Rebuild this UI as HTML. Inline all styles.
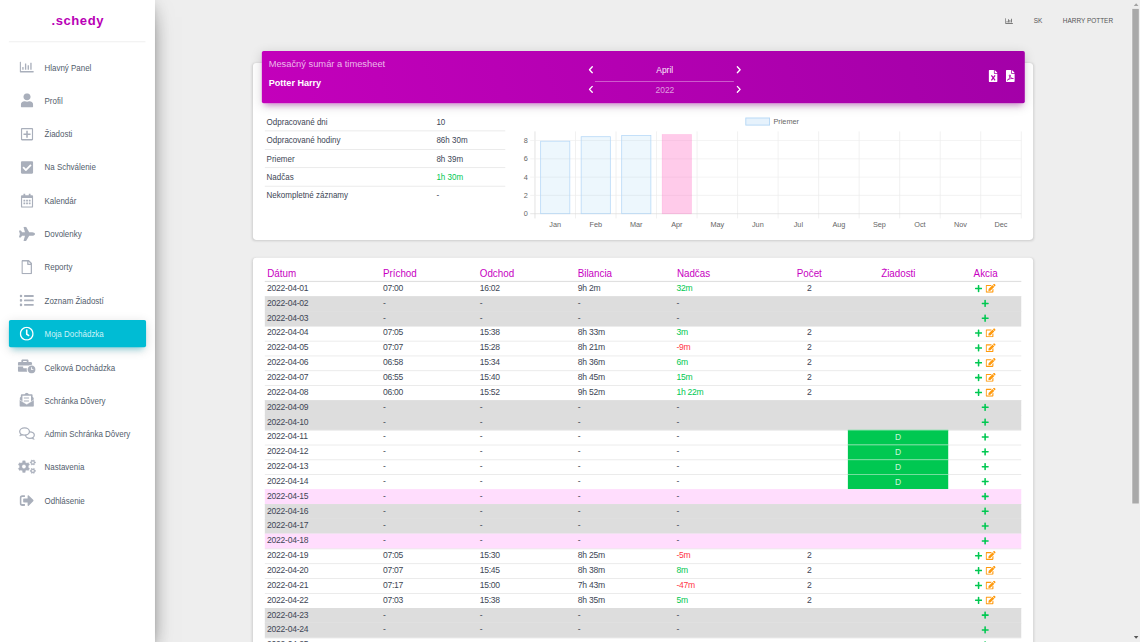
<!DOCTYPE html>
<html lang="sk"><head><meta charset="utf-8"><title>schedy</title>
<style>
html,body{margin:0;padding:0;background:#eee;overflow:hidden;}
body{width:1140px;height:642px;position:relative;font-family:"Liberation Sans",sans-serif;}
#w{position:absolute;left:0;top:0;width:1920px;height:1082px;transform:scale(0.59375);transform-origin:0 0;background:#eee;overflow:hidden;color:#3c4858;font-size:14px;}
#w *{box-sizing:border-box;}
.abs{position:absolute;}
.side{position:absolute;left:0;top:0;width:261px;height:1082px;background:#fff;box-shadow:0 16px 38px -12px rgba(0,0,0,.56),0 4px 25px 0 rgba(0,0,0,.12),0 8px 10px -5px rgba(0,0,0,.2);z-index:5;}
.logo{position:absolute;left:1px;top:19.900px;width:260px;text-align:center;font-weight:bold;font-size:22px;letter-spacing:.95px;color:#b900b6;line-height:30px;}
.hr{position:absolute;left:15px;top:69.5px;width:230px;height:1px;background:rgba(180,180,180,.35);}
.ni{position:absolute;left:15px;width:231px;height:46px;border-radius:3px;}
.ni.act{background:#00bcd4;box-shadow:0 4px 20px 0 rgba(0,0,0,.14),0 7px 10px -5px rgba(0,188,212,.4);}
.ni .ic{position:absolute;left:15px;top:0;width:30px;height:46px;display:flex;align-items:center;justify-content:center;}
.ni .tx{position:absolute;left:60px;top:.6px;line-height:46px;font-size:14.200px;color:#525d6c;white-space:nowrap;transform:scaleX(.944);transform-origin:0 50%;}
.ni.act .tx{color:#cdf3f8;}
.top{position:absolute;top:25.500px;line-height:18px;font-size:13px;color:#555;white-space:nowrap;transform:scaleX(.835);transform-origin:0 0;}
.card{position:absolute;background:#fff;border-radius:6px;box-shadow:0 1px 4px 0 rgba(0,0,0,.14);}
.chead{position:absolute;left:440.5px;top:85.800px;width:1285px;height:88.400px;border-radius:3px;background:linear-gradient(75deg,#c300bb,#a300a8);box-shadow:0 4px 20px 0 rgba(0,0,0,.14),0 7px 10px -5px rgba(176,0,176,.4);z-index:2;}
.t{position:absolute;white-space:nowrap;line-height:20px;}
.st{position:absolute;left:445.600px;width:405px;height:31px;border-top:1px solid #ddd;}
.st span{position:absolute;top:0;line-height:30px;font-size:14px;color:#3d4655;white-space:nowrap;transform:scaleX(.963);transform-origin:0 50%;}
.tb{position:absolute;left:445.600px;top:474px;width:1274.600px;}
.r{position:relative;height:25px;border-top:1px solid #dedede;}
.r.g{background:#dddddd;border-top-color:#dddddd;}
.r.p{background:#ffddfd;border-top-color:#ffddfd;}
.r span{position:absolute;top:-1.700px;line-height:25px;font-size:14.400px;letter-spacing:-.42px;color:#3d4655;white-space:nowrap;}
.c1{left:4.2px}.c2{left:199.4px}.c3{left:362.4px}.c4{left:527.6px}.c5{left:693.7px}
.c6{left:852.3px;width:130px;text-align:center}
.c7{left:982.1px;width:169.6px;text-align:center}
.c8{left:1151.7px;width:119px;text-align:center}
.r span.gr{color:#00c851}.r span.rd{color:#ff3547}
.r span.d{background:#00c851;color:#c9f6da;height:25px;top:-1px;line-height:23px;letter-spacing:0;border-top:1px solid #8fe6b0;}
.r svg{position:absolute;}
.th{position:absolute;top:450.300px;line-height:24px;font-size:17px;color:#c700c2;white-space:nowrap;transform:scaleX(.972);transform-origin:0 50%;}
.th.c{transform-origin:50% 50%;}
#clip{position:absolute;left:0;top:0;width:1140px;height:642px;overflow:hidden;}
</style></head><body><div id="clip"><div id="w">

<div class="side">
<div class="logo">.schedy</div><div class="hr"></div>
<div class="ni" style="top:90.3px"><div class="ic"><svg viewBox="0 0 512 512" width="24.00" height="24.00" fill="#a9afbb" color="#a9afbb" style=""><path d="M396.8 352h22.4c6.4 0 12.8-6.4 12.8-12.8V108.800c0-6.400-6.400-12.800-12.800-12.800h-22.400c-6.400 0-12.800 6.400-12.800 12.800v230.400c0 6.400 6.400 12.800 12.800 12.800zm-192 0h22.400c6.400 0 12.800-6.400 12.800-12.800V140.800c0-6.400-6.400-12.800-12.800-12.800h-22.400c-6.400 0-12.800 6.400-12.800 12.800v198.400c0 6.400 6.400 12.800 12.800 12.800zm96 0h22.400c6.400 0 12.800-6.400 12.800-12.800V204.800c0-6.400-6.400-12.800-12.800-12.800h-22.400c-6.400 0-12.800 6.400-12.800 12.800v134.400c0 6.400 6.400 12.800 12.800 12.800zM496 400H48V80c0-8.840-7.160-16-16-16H16C7.160 64 0 71.160 0 80v336c0 17.670 14.330 32 32 32h464c8.840 0 16-7.160 16-16v-16c0-8.840-7.160-16-16-16zm-387.200-48h22.400c6.400 0 12.800-6.400 12.800-12.800v-70.400c0-6.400-6.400-12.800-12.800-12.800h-22.400c-6.400 0-12.800 6.400-12.800 12.800v70.400c0 6.400 6.400 12.800 12.800 12.800z"/></svg></div><div class="tx">Hlavný Panel</div></div>
<div class="ni" style="top:146.4px"><div class="ic"><svg viewBox="0 0 448 512" width="21.00" height="24.00" fill="#a9afbb" color="#a9afbb" style=""><path d="M224 256c70.700 0 128-57.300 128-128S294.700 0 224 0 96 57.300 96 128s57.300 128 128 128zm89.600 32h-16.700c-22.200 10.200-46.900 16-72.900 16s-50.600-5.800-72.900-16h-16.700C60.200 288 0 348.200 0 422.400V464c0 26.500 21.500 48 48 48h352c26.500 0 48-21.500 48-48v-41.600c0-74.200-60.200-134.400-134.400-134.400z"/></svg></div><div class="tx">Profil</div></div>
<div class="ni" style="top:202.5px"><div class="ic"><svg viewBox="0 0 448 512" width="21.00" height="24.00" fill="#a9afbb" color="#a9afbb" style=""><path d="M352 240v32c0 6.600-5.400 12-12 12h-88v88c0 6.600-5.400 12-12 12h-32c-6.600 0-12-5.400-12-12v-88h-88c-6.600 0-12-5.400-12-12v-32c0-6.600 5.400-12 12-12h88v-88c0-6.600 5.400-12 12-12h32c6.600 0 12 5.400 12 12v88h88c6.600 0 12 5.400 12 12zm96-160v352c0 26.500-21.500 48-48 48H48c-26.500 0-48-21.500-48-48V80c0-26.500 21.500-48 48-48h352c26.500 0 48 21.500 48 48zm-48 346V86c0-3.300-2.700-6-6-6H54c-3.300 0-6 2.700-6 6v340c0 3.300 2.700 6 6 6h340c3.300 0 6-2.700 6-6z"/></svg></div><div class="tx">Žiadosti</div></div>
<div class="ni" style="top:258.6px"><div class="ic"><svg viewBox="0 0 448 512" width="21.00" height="24.00" fill="#a9afbb" color="#a9afbb" style=""><path d="M400 480H48c-26.510 0-48-21.490-48-48V80c0-26.510 21.490-48 48-48h352c26.510 0 48 21.490 48 48v352c0 26.510-21.490 48-48 48zm-204.686-98.059l184-184c6.248-6.248 6.248-16.379 0-22.627l-22.627-22.627c-6.248-6.248-16.379-6.249-22.628 0L184 302.745l-70.059-70.059c-6.248-6.248-16.379-6.248-22.628 0l-22.627 22.627c-6.248 6.248-6.248 16.379 0 22.627l104 104c6.249 6.250 16.379 6.250 22.628.001z"/></svg></div><div class="tx">Na Schválenie</div></div>
<div class="ni" style="top:314.7px"><div class="ic"><svg viewBox="0 0 448 512" width="21.00" height="24.00" fill="#a9afbb" color="#a9afbb" style=""><path d="M148 288h-40c-6.600 0-12-5.400-12-12v-40c0-6.600 5.400-12 12-12h40c6.600 0 12 5.400 12 12v40c0 6.600-5.400 12-12 12zm108-12v-40c0-6.600-5.400-12-12-12h-40c-6.600 0-12 5.400-12 12v40c0 6.600 5.400 12 12 12h40c6.600 0 12-5.400 12-12zm96 0v-40c0-6.600-5.400-12-12-12h-40c-6.600 0-12 5.400-12 12v40c0 6.600 5.400 12 12 12h40c6.600 0 12-5.400 12-12zm-96 96v-40c0-6.600-5.400-12-12-12h-40c-6.600 0-12 5.400-12 12v40c0 6.600 5.400 12 12 12h40c6.600 0 12-5.400 12-12zm-96 0v-40c0-6.600-5.400-12-12-12h-40c-6.600 0-12 5.400-12 12v40c0 6.600 5.400 12 12 12h40c6.600 0 12-5.400 12-12zm192 0v-40c0-6.600-5.400-12-12-12h-40c-6.600 0-12 5.400-12 12v40c0 6.600 5.400 12 12 12h40c6.600 0 12-5.400 12-12zm96-260v352c0 26.500-21.500 48-48 48H48c-26.500 0-48-21.500-48-48V112c0-26.500 21.500-48 48-48h48V12c0-6.600 5.400-12 12-12h40c6.600 0 12 5.400 12 12v52h128V12c0-6.600 5.400-12 12-12h40c6.600 0 12 5.400 12 12v52h48c26.500 0 48 21.500 48 48zm-48 346V160H48v298c0 3.300 2.700 6 6 6h340c3.300 0 6-2.700 6-6z"/></svg></div><div class="tx">Kalendár</div></div>
<div class="ni" style="top:370.8px"><div class="ic"><svg viewBox="0 0 576 512" width="27.00" height="24.00" fill="#a9afbb" color="#a9afbb" style=""><path d="M480 192H365.710L260.610 8.060A16.014 16.014 0 0 0 246.710 0h-65.500c-10.630 0-18.300 10.170-15.380 20.390L214.860 192H112l-43.200-57.600c-3.020-4.030-7.770-6.400-12.800-6.400H16.010C5.600 128-2.040 137.780.490 147.880L32 256 .490 364.120C-2.040 374.220 5.600 384 16.010 384H56c5.040 0 9.780-2.370 12.800-6.400L112 320h102.860l-49.030 171.600c-2.920 10.220 4.750 20.400 15.380 20.400h65.500c5.740 0 11.040-3.080 13.890-8.060L365.710 320H480c35.350 0 96-28.650 96-64s-60.650-64-96-64z"/></svg></div><div class="tx">Dovolenky</div></div>
<div class="ni" style="top:426.9px"><div class="ic"><svg viewBox="0 0 384 512" width="18.00" height="24.00" fill="#a9afbb" color="#a9afbb" style=""><path d="M369.900 97.900L286 14C277 5 264.800-.1 252.100-.1H48C21.500 0 0 21.500 0 48v416c0 26.500 21.500 48 48 48h288c26.500 0 48-21.500 48-48V131.900c0-12.700-5.100-25-14.100-34zM332.100 128H256V51.900l76.100 76.100zM48 464V48h160v104c0 13.300 10.700 24 24 24h104v288H48z"/></svg></div><div class="tx">Reporty</div></div>
<div class="ni" style="top:483.0px"><div class="ic"><svg viewBox="0 0 512 512" width="24.00" height="24.00" fill="#a9afbb" color="#a9afbb" style=""><path d="M48 48a48 48 0 1 0 48 48 48 48 0 0 0-48-48zm0 160a48 48 0 1 0 48 48 48 48 0 0 0-48-48zm0 160a48 48 0 1 0 48 48 48 48 0 0 0-48-48zm448 16H176a16 16 0 0 0-16 16v32a16 16 0 0 0 16 16h320a16 16 0 0 0 16-16v-32a16 16 0 0 0-16-16zm0-320H176a16 16 0 0 0-16 16v32a16 16 0 0 0 16 16h320a16 16 0 0 0 16-16V80a16 16 0 0 0-16-16zm0 160H176a16 16 0 0 0-16 16v32a16 16 0 0 0 16 16h320a16 16 0 0 0 16-16v-32a16 16 0 0 0-16-16z"/></svg></div><div class="tx">Zoznam Žiadostí</div></div>
<div class="ni act" style="top:539.1px"><div class="ic"><svg viewBox="0 0 512 512" width="24.00" height="24.00" fill="#ffffff" color="#ffffff" style=""><path d="M256 8C119 8 8 119 8 256s111 248 248 248 248-111 248-248S393 8 256 8zm0 448c-110.500 0-200-89.500-200-200S145.500 56 256 56s200 89.500 200 200-89.500 200-200 200zm61.800-104.400l-84.900-61.700c-3.100-2.300-4.900-5.900-4.900-9.700V116c0-6.600 5.400-12 12-12h32c6.600 0 12 5.400 12 12v141.700l66.800 48.600c5.400 3.900 6.500 11.400 2.600 16.800L334.600 349c-3.900 5.300-11.400 6.500-16.800 2.600z"/></svg></div><div class="tx">Moja Dochádzka</div></div>
<div class="ni" style="top:595.2px"><div class="ic"><svg viewBox="0 0 640 512" width="30.00" height="24.00" fill="#a9afbb" color="#a9afbb" style="transform:translateY(-0.800px)"><path d="M496 224c-79.590 0-144 64.410-144 144s64.410 144 144 144 144-64.410 144-144-64.410-144-144-144zm64 150.290c0 5.340-4.370 9.710-9.710 9.710h-60.570c-5.340 0-9.710-4.370-9.710-9.710v-76.570c0-5.340 4.370-9.710 9.710-9.710h12.570c5.340 0 9.710 4.370 9.710 9.710V352h38.290c5.340 0 9.710 4.370 9.710 9.710v12.580zM496 192c5.400 0 10.700.330 16 .810V144c0-25.600-22.400-48-48-48h-80V48c0-25.600-22.400-48-48-48H176c-25.600 0-48 22.400-48 48v48H48c-25.600 0-48 22.400-48 48v80h395.120c28.600-20.090 63.350-32 100.880-32zM320 96H192V64h128v32zm6.820 224H208c-8.840 0-16-7.160-16-16v-48H0v144c0 25.600 22.400 48 48 48h291.430C327.100 423.960 320 396.820 320 368c0-16.660 2.480-32.720 6.820-48z"/></svg></div><div class="tx">Celková Dochádzka</div></div>
<div class="ni" style="top:651.3px"><div class="ic"><svg viewBox="0 0 512 512" width="24.00" height="24.00" fill="#a9afbb" color="#a9afbb" style="transform:translateY(-0.800px)"><path d="M212 26Q256 -16 300 26L334 58H435a32 32 0 0 1 32 32V150L512 192V464a48 48 0 0 1-48 48H48a48 48 0 0 1-48-48V192L45 150V90a32 32 0 0 1 32-32H178Z"/><path d="M102 111H410V340L256 438L102 340Z" fill="#fff"/><path d="M154 176H336V214H154ZM154 281H336V319H154Z"/><path d="M-12 254L256 420L524 254V464a48 48 0 0 1-48 48H36a48 48 0 0 1-48-48Z" stroke="#fff" stroke-width="20"/></svg></div><div class="tx">Schránka Dôvery</div></div>
<div class="ni" style="top:707.4px"><div class="ic"><svg viewBox="0 0 576 512" width="27.00" height="24.00" fill="#a9afbb" color="#a9afbb" style=""><g fill="none" stroke="currentColor" stroke-width="46" stroke-linejoin="round"><ellipse cx="392" cy="316" rx="158" ry="116"/><path d="M505 410L548 470L450 436" fill="currentColor" stroke-width="20"/><ellipse cx="200" cy="188" rx="176" ry="128" fill="#fff"/><path d="M66 280L26 348L128 312" fill="currentColor" stroke-width="20"/></g></svg></div><div class="tx">Admin Schránka Dôvery</div></div>
<div class="ni" style="top:763.5px"><div class="ic"><svg viewBox="0 0 640 512" width="30.00" height="24.00" fill="#a9afbb" color="#a9afbb" style="overflow:visible"><g stroke="currentColor" stroke-width="14" stroke-linejoin="round"><path fill-rule="evenodd" d="M175.9 24.6 L264.1 24.6 L271.0 80.4 L325.8 112.0 L377.5 90.1 L421.6 166.5 L376.8 200.4 L376.8 263.6 L421.6 297.5 L377.5 373.9 L325.8 352.0 L271.0 383.6 L264.1 439.4 L175.9 439.4 L169.0 383.6 L114.2 352.0 L62.5 373.9 L18.4 297.5 L63.2 263.6 L63.2 200.4 L18.4 166.5 L62.5 90.1 L114.2 112.0 L169.0 80.4Z M144.0 232.0 a76.0 76.0 0 1 0 152.0 0 a76.0 76.0 0 1 0 -152.0 0Z"/><path fill-rule="evenodd" d="M635.9 63.6 L635.9 104.4 L606.3 106.3 L592.5 130.3 L605.6 156.8 L570.3 177.2 L553.8 152.6 L526.2 152.6 L509.7 177.2 L474.4 156.8 L487.5 130.3 L473.7 106.3 L444.1 104.4 L444.1 63.6 L473.7 61.7 L487.5 37.7 L474.4 11.2 L509.7 -9.2 L526.2 15.4 L553.8 15.4 L570.3 -9.2 L605.6 11.2 L592.5 37.7 L606.3 61.7Z M497.0 84.0 a43.0 43.0 0 1 0 86.0 0 a43.0 43.0 0 1 0 -86.0 0Z"/><path fill-rule="evenodd" d="M635.9 363.6 L635.9 404.4 L606.3 406.3 L592.5 430.3 L605.6 456.8 L570.3 477.2 L553.8 452.6 L526.2 452.6 L509.7 477.2 L474.4 456.8 L487.5 430.3 L473.7 406.3 L444.1 404.4 L444.1 363.6 L473.7 361.7 L487.5 337.7 L474.4 311.2 L509.7 290.8 L526.2 315.4 L553.8 315.4 L570.3 290.8 L605.6 311.2 L592.5 337.7 L606.3 361.7Z M497.0 384.0 a43.0 43.0 0 1 0 86.0 0 a43.0 43.0 0 1 0 -86.0 0Z"/></g></svg></div><div class="tx">Nastavenia</div></div>
<div class="ni" style="top:819.6px"><div class="ic"><svg viewBox="0 0 512 512" width="24.00" height="24.00" fill="#a9afbb" color="#a9afbb" style=""><path d="M497 273L329 441c-15 15-41 4.500-41-17v-96H152c-13.300 0-24-10.700-24-24v-96c0-13.300 10.700-24 24-24h136V88c0-21.400 25.900-32 41-17l168 168c9.300 9.400 9.300 24.600 0 34zM192 436v-40c0-6.600-5.400-12-12-12H96c-17.700 0-32-14.300-32-32V160c0-17.700 14.300-32 32-32h84c6.600 0 12-5.400 12-12V76c0-6.600-5.400-12-12-12H96c-53 0-96 43-96 96v192c0 53 43 96 96 96h84c6.600 0 12-5.400 12-12z"/></svg></div><div class="tx">Odhlásenie</div></div>
</div>
<div class="abs" style="left:1692.600px;top:28.600px;"><svg viewBox="0 0 512 512" width="13.00" height="13.00" fill="#555" color="#555" style=""><path d="M396.8 352h22.4c6.4 0 12.8-6.4 12.8-12.8V108.800c0-6.400-6.400-12.800-12.800-12.800h-22.400c-6.400 0-12.800 6.400-12.800 12.800v230.400c0 6.400 6.400 12.800 12.800 12.800zm-192 0h22.400c6.400 0 12.800-6.400 12.800-12.800V140.800c0-6.400-6.400-12.800-12.800-12.800h-22.400c-6.400 0-12.800 6.400-12.800 12.800v198.400c0 6.400 6.400 12.800 12.800 12.800zm96 0h22.400c6.400 0 12.800-6.400 12.800-12.800V204.800c0-6.400-6.400-12.800-12.800-12.800h-22.400c-6.400 0-12.800 6.400-12.800 12.800v134.400c0 6.400 6.400 12.800 12.800 12.800zM496 400H48V80c0-8.840-7.160-16-16-16H16C7.160 64 0 71.160 0 80v336c0 17.670 14.330 32 32 32h464c8.840 0 16-7.160 16-16v-16c0-8.840-7.160-16-16-16zm-387.200-48h22.400c6.400 0 12.800-6.400 12.800-12.800v-70.400c0-6.400-6.400-12.800-12.800-12.800h-22.400c-6.400 0-12.800 6.400-12.800 12.800v70.400c0 6.400 6.400 12.800 12.800 12.800z"/></svg></div>
<div class="top" style="left:1740.500px">SK</div>
<div class="top" style="left:1789.500px">HARRY POTTER</div>
<div class="abs" style="left:1905px;top:0;width:15px;height:1082px;background:#eeeeee;z-index:9"></div>
<div class="abs" style="left:1905.500px;top:15px;width:1.500px;height:833px;background:#f8f8f8;z-index:10"></div>
<div class="abs" style="left:1907.400px;top:15.300px;width:11px;height:832.700px;background:#a9a9a9;z-index:10"></div>
<svg class="abs" style="left:1908.500px;top:5px;z-index:10" width="9" height="5" viewBox="0 0 9 5"><path d="M0.500 5L4.500 0.500 8.500 5Z" fill="#a3a3a3"/></svg>
<svg class="abs" style="left:1908.500px;top:1070.500px;z-index:10" width="9" height="5" viewBox="0 0 9 5"><path d="M0.500 0L4.500 4.800 8.500 0Z" fill="#555"/></svg>
<div class="card" style="left:425.500px;top:106.300px;width:1314px;height:297.400px"></div>
<div class="chead">
<div class="t" style="left:12px;top:12.300px;font-size:15.700px;color:rgba(255,255,255,.72)">Mesačný sumár a timesheet</div>
<div class="t" style="left:12px;top:44.500px;font-size:15.300px;font-weight:bold;color:#fff">Potter Harry</div>
<svg class="abs" style="left:550.1px;top:25.1px" width="8.300" height="13" viewBox="0 0 8.300 13"><path d="M6.500 1.500L1.800 6.500L6.500 11.500" fill="none" stroke="#fff" stroke-width="2.300" stroke-linecap="round" stroke-linejoin="round"/></svg>
<svg class="abs" style="left:550.1px;top:58.4px" width="8.300" height="13" viewBox="0 0 8.300 13"><path d="M6.500 1.500L1.800 6.500L6.500 11.500" fill="none" stroke="#fff" stroke-width="2.300" stroke-linecap="round" stroke-linejoin="round"/></svg>
<svg class="abs" style="left:799.9px;top:25.1px" width="8.300" height="13" viewBox="0 0 8.300 13"><path d="M1.800 1.500L6.500 6.500L1.800 11.500" fill="none" stroke="#fff" stroke-width="2.300" stroke-linecap="round" stroke-linejoin="round"/></svg>
<svg class="abs" style="left:799.9px;top:58.4px" width="8.300" height="13" viewBox="0 0 8.300 13"><path d="M1.800 1.500L6.500 6.500L1.800 11.500" fill="none" stroke="#fff" stroke-width="2.300" stroke-linecap="round" stroke-linejoin="round"/></svg>
<div class="t" style="left:619.0px;top:21.9px;width:120px;text-align:center;font-size:14.200px;color:#fbe9fb">April</div>
<div class="t" style="left:619.3px;top:54.9px;width:120px;text-align:center;font-size:14.200px;color:rgba(255,255,255,.62)">2022</div>
<div class="abs" style="left:561.6px;top:50.8px;width:234.1px;height:1.500px;background:rgba(255,255,255,.6)"></div>
<svg class="abs" style="left:1224.0px;top:32.3px" width="15.4" height="20.2" viewBox="0 0 24 32"><path d="M2.500 0h11.500v8.200a1.800 1.800 0 0 0 1.800 1.800h8.200v19.500a2.500 2.500 0 0 1-2.500 2.500h-19a2.500 2.500 0 0 1-2.500-2.500v-27a2.500 2.500 0 0 1 2.500-2.500zM16 0l8 8h-8z" fill="#fff"/><path d="M7.300 14.200l9.800 13.600M17.100 14.200l-9.800 13.600" stroke="#b400b0" stroke-width="3.300" fill="none"/></svg>
<svg class="abs" style="left:1253.5px;top:32.3px" width="15.4" height="20.2" viewBox="0 0 24 32"><path d="M2.500 0h11.500v8.200a1.800 1.800 0 0 0 1.800 1.800h8.200v19.500a2.500 2.500 0 0 1-2.500 2.500h-19a2.500 2.500 0 0 1-2.500-2.500v-27a2.500 2.500 0 0 1 2.500-2.500zM16 0l8 8h-8z" fill="#fff"/><circle cx="10.600" cy="14.600" r="1.700" fill="none" stroke="#ae00ac" stroke-width="1.900"/><path d="M4.300 27c3.800-2.200 6.300-6.200 6.500-10.700M10.800 16.500c1.300 3.900 4.200 6 8.200 6.200M5.500 25.800c4-2.500 9-3.600 13.500-3.300" stroke="#ae00ac" stroke-width="2.200" stroke-linecap="round" fill="none"/></svg>
</div>
<div class="st" style="top:189px;border-top-color:transparent;"><span style="left:3px">Odpracované dni</span><span style="left:289.600px;">10</span></div>
<div class="st" style="top:220px;"><span style="left:3px">Odpracované hodiny</span><span style="left:289.600px;">86h 30m</span></div>
<div class="st" style="top:251px;"><span style="left:3px">Priemer</span><span style="left:289.600px;">8h 39m</span></div>
<div class="st" style="top:282px;"><span style="left:3px">Nadčas</span><span style="left:289.600px;color:#00c851">1h 30m</span></div>
<div class="st" style="top:313px;"><span style="left:3px">Nekompletné záznamy</span><span style="left:289.600px;">-</span></div>
<svg class="abs" style="left:0;top:0;z-index:1" width="1920" height="420" viewBox="0 0 1920 420" font-family="Liberation Sans, sans-serif" font-size="12.300" fill="#666"><rect x="1256.1" y="198.7" width="40" height="12" fill="#e6f2fc" stroke="#b3d6f5" stroke-width="1.500"/><text x="1302.6" y="208.9">Priemer</text><line x1="901.00" y1="221.3" x2="901.00" y2="367.9" stroke="#d4d4d4" stroke-width="1.100"/><line x1="969.25" y1="221.3" x2="969.25" y2="367.9" stroke="#e9e9e9" stroke-width="1.100"/><line x1="1037.50" y1="221.3" x2="1037.50" y2="367.9" stroke="#e9e9e9" stroke-width="1.100"/><line x1="1105.75" y1="221.3" x2="1105.75" y2="367.9" stroke="#e9e9e9" stroke-width="1.100"/><line x1="1174.00" y1="221.3" x2="1174.00" y2="367.9" stroke="#e9e9e9" stroke-width="1.100"/><line x1="1242.25" y1="221.3" x2="1242.25" y2="367.9" stroke="#e9e9e9" stroke-width="1.100"/><line x1="1310.50" y1="221.3" x2="1310.50" y2="367.9" stroke="#e9e9e9" stroke-width="1.100"/><line x1="1378.75" y1="221.3" x2="1378.75" y2="367.9" stroke="#e9e9e9" stroke-width="1.100"/><line x1="1447.00" y1="221.3" x2="1447.00" y2="367.9" stroke="#e9e9e9" stroke-width="1.100"/><line x1="1515.25" y1="221.3" x2="1515.25" y2="367.9" stroke="#e9e9e9" stroke-width="1.100"/><line x1="1583.50" y1="221.3" x2="1583.50" y2="367.9" stroke="#e9e9e9" stroke-width="1.100"/><line x1="1651.75" y1="221.3" x2="1651.75" y2="367.9" stroke="#e9e9e9" stroke-width="1.100"/><line x1="1720.00" y1="221.3" x2="1720.00" y2="367.9" stroke="#e9e9e9" stroke-width="1.100"/><line x1="893.0" y1="359.90" x2="1720.0" y2="359.90" stroke="#d8d8d8" stroke-width="1.100"/><text x="889.0" y="364.3" text-anchor="end">0</text><line x1="893.0" y1="329.10" x2="1720.0" y2="329.10" stroke="#ececec" stroke-width="1.100"/><text x="889.0" y="333.5" text-anchor="end">2</text><line x1="893.0" y1="298.30" x2="1720.0" y2="298.30" stroke="#ececec" stroke-width="1.100"/><text x="889.0" y="302.7" text-anchor="end">4</text><line x1="893.0" y1="267.50" x2="1720.0" y2="267.50" stroke="#ececec" stroke-width="1.100"/><text x="889.0" y="271.9" text-anchor="end">6</text><line x1="893.0" y1="236.70" x2="1720.0" y2="236.70" stroke="#ececec" stroke-width="1.100"/><text x="889.0" y="241.1" text-anchor="end">8</text><rect x="910.55" y="237.78" width="49.14" height="122.12" fill="rgba(54,162,235,.09)" stroke="#b6d8f7" stroke-width="1.300"/><rect x="978.80" y="230.23" width="49.14" height="129.67" fill="rgba(54,162,235,.09)" stroke="#b6d8f7" stroke-width="1.300"/><rect x="1047.06" y="228.08" width="49.14" height="131.82" fill="rgba(54,162,235,.09)" stroke="#b6d8f7" stroke-width="1.300"/><rect x="1115.31" y="226.69" width="49.14" height="133.21" fill="rgba(255,105,195,.35)" stroke="rgba(255,120,200,.3)" stroke-width="1.300"/><text x="935.1" y="381.8" text-anchor="middle">Jan</text><text x="1003.4" y="381.8" text-anchor="middle">Feb</text><text x="1071.6" y="381.8" text-anchor="middle">Mar</text><text x="1139.9" y="381.8" text-anchor="middle">Apr</text><text x="1208.1" y="381.8" text-anchor="middle">May</text><text x="1276.4" y="381.8" text-anchor="middle">Jun</text><text x="1344.6" y="381.8" text-anchor="middle">Jul</text><text x="1412.9" y="381.8" text-anchor="middle">Aug</text><text x="1481.1" y="381.8" text-anchor="middle">Sep</text><text x="1549.4" y="381.8" text-anchor="middle">Oct</text><text x="1617.6" y="381.8" text-anchor="middle">Nov</text><text x="1685.9" y="381.8" text-anchor="middle">Dec</text></svg>
<div class="card" style="left:425.500px;top:433.600px;width:1314px;height:700px"></div>
<div class="th" style="left:450.0px">Dátum</div>
<div class="th" style="left:645.2px">Príchod</div>
<div class="th" style="left:808.2px">Odchod</div>
<div class="th" style="left:973.4px">Bilancia</div>
<div class="th" style="left:1139.5px">Nadčas</div>
<div class="th c" style="left:1283.3px;width:160px;text-align:center">Počet</div>
<div class="th c" style="left:1432.8px;width:160px;text-align:center">Žiadosti</div>
<div class="th c" style="left:1579.6px;width:160px;text-align:center">Akcia</div>
<div class="abs" style="left:445.600px;top:473.200px;width:1274.600px;height:1.600px;background:#e4e4e4"></div>
<div class="tb">
<div class="r"><span class="c1">2022-04-01</span><span class="c2">07:00</span><span class="c3">16:02</span><span class="c4">9h 2m</span><span class="c5 gr">32m</span><span class="c6">2</span><svg viewBox="0 0 448 512" width="12.25" height="14.00" fill="#00c851" color="#00c851" style="left:1196.4px;top:4.400px"><path d="M416 208H272V64c0-17.670-14.330-32-32-32h-32c-17.670 0-32 14.330-32 32v144H32c-17.670 0-32 14.330-32 32v32c0 17.670 14.330 32 32 32h144v144c0 17.670 14.330 32 32 32h32c17.670 0 32-14.330 32-32V304h144c17.670 0 32-14.330 32-32v-32c0-17.670-14.330-32-32-32z"/></svg><svg style="left:1214.9px;top:3px" width="16.900" height="15" viewBox="0 0 576 512" fill="#ff9a0e"><path d="M402.600 83.200l90.200 90.200c3.800 3.800 3.800 10 0 13.800L274.400 405.600l-92.800 10.300c-12.400 1.400-22.900-9.100-21.500-21.500l10.300-92.800L388.800 83.200c3.800-3.800 10-3.800 13.800 0zm162-22.900l-48.800-48.800c-15.200-15.200-39.900-15.200-55.200 0l-35.400 35.400c-3.800 3.800-3.800 10 0 13.800l90.200 90.200c3.800 3.800 10 3.800 13.800 0l35.400-35.400c15.200-15.300 15.200-40 0-55.200zM384 346.200V448H64V128h229.800c3.200 0 6.200-1.300 8.500-3.500l40-40c7.600-7.600 2.200-20.500-8.500-20.500H48C21.500 64 0 85.500 0 112v352c0 26.500 21.500 48 48 48h352c26.500 0 48-21.500 48-48V306.200c0-10.700-12.900-16-20.500-8.500l-40 40c-2.200 2.300-3.500 5.300-3.500 8.500z"/></svg></div>
<div class="r g"><span class="c1">2022-04-02</span><span class="c2">-</span><span class="c3">-</span><span class="c4">-</span><span class="c5">-</span><svg viewBox="0 0 448 512" width="12.25" height="14.00" fill="#00c851" color="#00c851" style="left:1207.8px;top:4.400px"><path d="M416 208H272V64c0-17.670-14.330-32-32-32h-32c-17.670 0-32 14.330-32 32v144H32c-17.670 0-32 14.330-32 32v32c0 17.670 14.330 32 32 32h144v144c0 17.670 14.330 32 32 32h32c17.670 0 32-14.330 32-32V304h144c17.670 0 32-14.330 32-32v-32c0-17.670-14.330-32-32-32z"/></svg></div>
<div class="r g"><span class="c1">2022-04-03</span><span class="c2">-</span><span class="c3">-</span><span class="c4">-</span><span class="c5">-</span><svg viewBox="0 0 448 512" width="12.25" height="14.00" fill="#00c851" color="#00c851" style="left:1207.8px;top:4.400px"><path d="M416 208H272V64c0-17.670-14.330-32-32-32h-32c-17.670 0-32 14.330-32 32v144H32c-17.670 0-32 14.330-32 32v32c0 17.670 14.330 32 32 32h144v144c0 17.670 14.330 32 32 32h32c17.670 0 32-14.330 32-32V304h144c17.670 0 32-14.330 32-32v-32c0-17.670-14.330-32-32-32z"/></svg></div>
<div class="r"><span class="c1">2022-04-04</span><span class="c2">07:05</span><span class="c3">15:38</span><span class="c4">8h 33m</span><span class="c5 gr">3m</span><span class="c6">2</span><svg viewBox="0 0 448 512" width="12.25" height="14.00" fill="#00c851" color="#00c851" style="left:1196.4px;top:4.400px"><path d="M416 208H272V64c0-17.670-14.330-32-32-32h-32c-17.670 0-32 14.330-32 32v144H32c-17.670 0-32 14.330-32 32v32c0 17.670 14.330 32 32 32h144v144c0 17.670 14.330 32 32 32h32c17.670 0 32-14.330 32-32V304h144c17.670 0 32-14.330 32-32v-32c0-17.670-14.330-32-32-32z"/></svg><svg style="left:1214.9px;top:3px" width="16.900" height="15" viewBox="0 0 576 512" fill="#ff9a0e"><path d="M402.600 83.200l90.200 90.200c3.800 3.800 3.800 10 0 13.800L274.400 405.600l-92.800 10.300c-12.400 1.400-22.900-9.100-21.500-21.500l10.300-92.800L388.800 83.200c3.800-3.800 10-3.800 13.800 0zm162-22.900l-48.800-48.800c-15.200-15.200-39.900-15.200-55.200 0l-35.400 35.400c-3.800 3.800-3.800 10 0 13.800l90.200 90.200c3.800 3.800 10 3.800 13.800 0l35.400-35.400c15.200-15.300 15.200-40 0-55.200zM384 346.200V448H64V128h229.800c3.200 0 6.200-1.300 8.500-3.500l40-40c7.600-7.600 2.200-20.500-8.500-20.500H48C21.500 64 0 85.500 0 112v352c0 26.500 21.500 48 48 48h352c26.500 0 48-21.500 48-48V306.200c0-10.700-12.900-16-20.500-8.500l-40 40c-2.200 2.300-3.500 5.300-3.500 8.500z"/></svg></div>
<div class="r"><span class="c1">2022-04-05</span><span class="c2">07:07</span><span class="c3">15:28</span><span class="c4">8h 21m</span><span class="c5 rd">-9m</span><span class="c6">2</span><svg viewBox="0 0 448 512" width="12.25" height="14.00" fill="#00c851" color="#00c851" style="left:1196.4px;top:4.400px"><path d="M416 208H272V64c0-17.670-14.330-32-32-32h-32c-17.670 0-32 14.330-32 32v144H32c-17.670 0-32 14.330-32 32v32c0 17.670 14.330 32 32 32h144v144c0 17.670 14.330 32 32 32h32c17.670 0 32-14.330 32-32V304h144c17.670 0 32-14.330 32-32v-32c0-17.670-14.330-32-32-32z"/></svg><svg style="left:1214.9px;top:3px" width="16.900" height="15" viewBox="0 0 576 512" fill="#ff9a0e"><path d="M402.600 83.200l90.200 90.200c3.800 3.800 3.800 10 0 13.800L274.400 405.600l-92.800 10.300c-12.400 1.400-22.900-9.100-21.500-21.500l10.300-92.800L388.800 83.200c3.800-3.800 10-3.800 13.800 0zm162-22.900l-48.800-48.800c-15.200-15.200-39.900-15.200-55.200 0l-35.400 35.400c-3.800 3.800-3.800 10 0 13.800l90.200 90.200c3.800 3.800 10 3.800 13.800 0l35.400-35.400c15.200-15.300 15.200-40 0-55.200zM384 346.200V448H64V128h229.800c3.200 0 6.200-1.300 8.500-3.500l40-40c7.600-7.600 2.200-20.500-8.500-20.500H48C21.500 64 0 85.500 0 112v352c0 26.500 21.500 48 48 48h352c26.500 0 48-21.500 48-48V306.200c0-10.700-12.900-16-20.500-8.500l-40 40c-2.200 2.300-3.500 5.300-3.500 8.500z"/></svg></div>
<div class="r"><span class="c1">2022-04-06</span><span class="c2">06:58</span><span class="c3">15:34</span><span class="c4">8h 36m</span><span class="c5 gr">6m</span><span class="c6">2</span><svg viewBox="0 0 448 512" width="12.25" height="14.00" fill="#00c851" color="#00c851" style="left:1196.4px;top:4.400px"><path d="M416 208H272V64c0-17.670-14.330-32-32-32h-32c-17.670 0-32 14.330-32 32v144H32c-17.670 0-32 14.330-32 32v32c0 17.670 14.330 32 32 32h144v144c0 17.670 14.330 32 32 32h32c17.670 0 32-14.330 32-32V304h144c17.670 0 32-14.330 32-32v-32c0-17.670-14.330-32-32-32z"/></svg><svg style="left:1214.9px;top:3px" width="16.900" height="15" viewBox="0 0 576 512" fill="#ff9a0e"><path d="M402.600 83.200l90.200 90.200c3.800 3.800 3.800 10 0 13.800L274.400 405.600l-92.800 10.300c-12.400 1.400-22.900-9.100-21.500-21.500l10.300-92.800L388.800 83.200c3.800-3.800 10-3.800 13.800 0zm162-22.900l-48.800-48.800c-15.200-15.200-39.900-15.200-55.200 0l-35.400 35.400c-3.800 3.800-3.800 10 0 13.800l90.200 90.200c3.800 3.800 10 3.800 13.800 0l35.400-35.400c15.200-15.300 15.200-40 0-55.200zM384 346.200V448H64V128h229.800c3.200 0 6.200-1.300 8.500-3.500l40-40c7.600-7.600 2.200-20.500-8.500-20.500H48C21.500 64 0 85.500 0 112v352c0 26.500 21.500 48 48 48h352c26.500 0 48-21.500 48-48V306.200c0-10.700-12.900-16-20.500-8.500l-40 40c-2.200 2.300-3.500 5.300-3.500 8.500z"/></svg></div>
<div class="r"><span class="c1">2022-04-07</span><span class="c2">06:55</span><span class="c3">15:40</span><span class="c4">8h 45m</span><span class="c5 gr">15m</span><span class="c6">2</span><svg viewBox="0 0 448 512" width="12.25" height="14.00" fill="#00c851" color="#00c851" style="left:1196.4px;top:4.400px"><path d="M416 208H272V64c0-17.670-14.330-32-32-32h-32c-17.670 0-32 14.330-32 32v144H32c-17.670 0-32 14.330-32 32v32c0 17.670 14.330 32 32 32h144v144c0 17.670 14.330 32 32 32h32c17.670 0 32-14.330 32-32V304h144c17.670 0 32-14.330 32-32v-32c0-17.670-14.330-32-32-32z"/></svg><svg style="left:1214.9px;top:3px" width="16.900" height="15" viewBox="0 0 576 512" fill="#ff9a0e"><path d="M402.600 83.200l90.200 90.200c3.800 3.800 3.800 10 0 13.800L274.400 405.600l-92.800 10.300c-12.400 1.400-22.900-9.100-21.500-21.500l10.300-92.800L388.800 83.200c3.800-3.800 10-3.800 13.800 0zm162-22.900l-48.800-48.800c-15.200-15.200-39.900-15.200-55.200 0l-35.400 35.400c-3.800 3.800-3.800 10 0 13.800l90.200 90.200c3.800 3.800 10 3.800 13.800 0l35.400-35.400c15.200-15.300 15.200-40 0-55.200zM384 346.200V448H64V128h229.800c3.200 0 6.200-1.300 8.500-3.500l40-40c7.600-7.600 2.200-20.500-8.500-20.500H48C21.500 64 0 85.500 0 112v352c0 26.500 21.500 48 48 48h352c26.500 0 48-21.500 48-48V306.200c0-10.700-12.900-16-20.500-8.500l-40 40c-2.200 2.300-3.500 5.300-3.500 8.500z"/></svg></div>
<div class="r"><span class="c1">2022-04-08</span><span class="c2">06:00</span><span class="c3">15:52</span><span class="c4">9h 52m</span><span class="c5 gr">1h 22m</span><span class="c6">2</span><svg viewBox="0 0 448 512" width="12.25" height="14.00" fill="#00c851" color="#00c851" style="left:1196.4px;top:4.400px"><path d="M416 208H272V64c0-17.670-14.330-32-32-32h-32c-17.670 0-32 14.330-32 32v144H32c-17.670 0-32 14.330-32 32v32c0 17.670 14.330 32 32 32h144v144c0 17.670 14.330 32 32 32h32c17.670 0 32-14.330 32-32V304h144c17.670 0 32-14.330 32-32v-32c0-17.670-14.330-32-32-32z"/></svg><svg style="left:1214.9px;top:3px" width="16.900" height="15" viewBox="0 0 576 512" fill="#ff9a0e"><path d="M402.600 83.200l90.200 90.200c3.800 3.800 3.800 10 0 13.800L274.400 405.600l-92.800 10.300c-12.400 1.400-22.900-9.100-21.500-21.500l10.300-92.800L388.800 83.200c3.800-3.800 10-3.800 13.800 0zm162-22.900l-48.800-48.800c-15.200-15.200-39.900-15.200-55.200 0l-35.400 35.400c-3.800 3.800-3.800 10 0 13.800l90.200 90.200c3.800 3.800 10 3.800 13.800 0l35.400-35.400c15.200-15.300 15.200-40 0-55.200zM384 346.200V448H64V128h229.800c3.200 0 6.200-1.300 8.500-3.500l40-40c7.600-7.600 2.200-20.500-8.500-20.500H48C21.500 64 0 85.500 0 112v352c0 26.500 21.500 48 48 48h352c26.500 0 48-21.500 48-48V306.200c0-10.700-12.900-16-20.500-8.500l-40 40c-2.200 2.300-3.500 5.300-3.500 8.500z"/></svg></div>
<div class="r g"><span class="c1">2022-04-09</span><span class="c2">-</span><span class="c3">-</span><span class="c4">-</span><span class="c5">-</span><svg viewBox="0 0 448 512" width="12.25" height="14.00" fill="#00c851" color="#00c851" style="left:1207.8px;top:4.400px"><path d="M416 208H272V64c0-17.670-14.330-32-32-32h-32c-17.670 0-32 14.330-32 32v144H32c-17.670 0-32 14.330-32 32v32c0 17.670 14.330 32 32 32h144v144c0 17.670 14.330 32 32 32h32c17.670 0 32-14.330 32-32V304h144c17.670 0 32-14.330 32-32v-32c0-17.670-14.330-32-32-32z"/></svg></div>
<div class="r g"><span class="c1">2022-04-10</span><span class="c2">-</span><span class="c3">-</span><span class="c4">-</span><span class="c5">-</span><svg viewBox="0 0 448 512" width="12.25" height="14.00" fill="#00c851" color="#00c851" style="left:1207.8px;top:4.400px"><path d="M416 208H272V64c0-17.670-14.330-32-32-32h-32c-17.670 0-32 14.330-32 32v144H32c-17.670 0-32 14.330-32 32v32c0 17.670 14.330 32 32 32h144v144c0 17.670 14.330 32 32 32h32c17.670 0 32-14.330 32-32V304h144c17.670 0 32-14.330 32-32v-32c0-17.670-14.330-32-32-32z"/></svg></div>
<div class="r"><span class="c1">2022-04-11</span><span class="c2">-</span><span class="c3">-</span><span class="c4">-</span><span class="c5">-</span><span class="c7 d">D</span><svg viewBox="0 0 448 512" width="12.25" height="14.00" fill="#00c851" color="#00c851" style="left:1207.8px;top:4.400px"><path d="M416 208H272V64c0-17.670-14.330-32-32-32h-32c-17.670 0-32 14.330-32 32v144H32c-17.670 0-32 14.330-32 32v32c0 17.670 14.330 32 32 32h144v144c0 17.670 14.330 32 32 32h32c17.670 0 32-14.330 32-32V304h144c17.670 0 32-14.330 32-32v-32c0-17.670-14.330-32-32-32z"/></svg></div>
<div class="r"><span class="c1">2022-04-12</span><span class="c2">-</span><span class="c3">-</span><span class="c4">-</span><span class="c5">-</span><span class="c7 d">D</span><svg viewBox="0 0 448 512" width="12.25" height="14.00" fill="#00c851" color="#00c851" style="left:1207.8px;top:4.400px"><path d="M416 208H272V64c0-17.670-14.330-32-32-32h-32c-17.670 0-32 14.330-32 32v144H32c-17.670 0-32 14.330-32 32v32c0 17.670 14.330 32 32 32h144v144c0 17.670 14.330 32 32 32h32c17.670 0 32-14.330 32-32V304h144c17.670 0 32-14.330 32-32v-32c0-17.670-14.330-32-32-32z"/></svg></div>
<div class="r"><span class="c1">2022-04-13</span><span class="c2">-</span><span class="c3">-</span><span class="c4">-</span><span class="c5">-</span><span class="c7 d">D</span><svg viewBox="0 0 448 512" width="12.25" height="14.00" fill="#00c851" color="#00c851" style="left:1207.8px;top:4.400px"><path d="M416 208H272V64c0-17.670-14.330-32-32-32h-32c-17.670 0-32 14.330-32 32v144H32c-17.670 0-32 14.330-32 32v32c0 17.670 14.330 32 32 32h144v144c0 17.670 14.330 32 32 32h32c17.670 0 32-14.330 32-32V304h144c17.670 0 32-14.330 32-32v-32c0-17.670-14.330-32-32-32z"/></svg></div>
<div class="r"><span class="c1">2022-04-14</span><span class="c2">-</span><span class="c3">-</span><span class="c4">-</span><span class="c5">-</span><span class="c7 d">D</span><svg viewBox="0 0 448 512" width="12.25" height="14.00" fill="#00c851" color="#00c851" style="left:1207.8px;top:4.400px"><path d="M416 208H272V64c0-17.670-14.330-32-32-32h-32c-17.670 0-32 14.330-32 32v144H32c-17.670 0-32 14.330-32 32v32c0 17.670 14.330 32 32 32h144v144c0 17.670 14.330 32 32 32h32c17.670 0 32-14.330 32-32V304h144c17.670 0 32-14.330 32-32v-32c0-17.670-14.330-32-32-32z"/></svg></div>
<div class="r p"><span class="c1">2022-04-15</span><span class="c2">-</span><span class="c3">-</span><span class="c4">-</span><span class="c5">-</span><svg viewBox="0 0 448 512" width="12.25" height="14.00" fill="#00c851" color="#00c851" style="left:1207.8px;top:4.400px"><path d="M416 208H272V64c0-17.670-14.330-32-32-32h-32c-17.670 0-32 14.330-32 32v144H32c-17.670 0-32 14.330-32 32v32c0 17.670 14.330 32 32 32h144v144c0 17.670 14.330 32 32 32h32c17.670 0 32-14.330 32-32V304h144c17.670 0 32-14.330 32-32v-32c0-17.670-14.330-32-32-32z"/></svg></div>
<div class="r g"><span class="c1">2022-04-16</span><span class="c2">-</span><span class="c3">-</span><span class="c4">-</span><span class="c5">-</span><svg viewBox="0 0 448 512" width="12.25" height="14.00" fill="#00c851" color="#00c851" style="left:1207.8px;top:4.400px"><path d="M416 208H272V64c0-17.670-14.330-32-32-32h-32c-17.670 0-32 14.330-32 32v144H32c-17.670 0-32 14.330-32 32v32c0 17.670 14.330 32 32 32h144v144c0 17.670 14.330 32 32 32h32c17.670 0 32-14.330 32-32V304h144c17.670 0 32-14.330 32-32v-32c0-17.670-14.330-32-32-32z"/></svg></div>
<div class="r g"><span class="c1">2022-04-17</span><span class="c2">-</span><span class="c3">-</span><span class="c4">-</span><span class="c5">-</span><svg viewBox="0 0 448 512" width="12.25" height="14.00" fill="#00c851" color="#00c851" style="left:1207.8px;top:4.400px"><path d="M416 208H272V64c0-17.670-14.330-32-32-32h-32c-17.670 0-32 14.330-32 32v144H32c-17.670 0-32 14.330-32 32v32c0 17.670 14.330 32 32 32h144v144c0 17.670 14.330 32 32 32h32c17.670 0 32-14.330 32-32V304h144c17.670 0 32-14.330 32-32v-32c0-17.670-14.330-32-32-32z"/></svg></div>
<div class="r p"><span class="c1">2022-04-18</span><span class="c2">-</span><span class="c3">-</span><span class="c4">-</span><span class="c5">-</span><svg viewBox="0 0 448 512" width="12.25" height="14.00" fill="#00c851" color="#00c851" style="left:1207.8px;top:4.400px"><path d="M416 208H272V64c0-17.670-14.330-32-32-32h-32c-17.670 0-32 14.330-32 32v144H32c-17.670 0-32 14.330-32 32v32c0 17.670 14.330 32 32 32h144v144c0 17.670 14.330 32 32 32h32c17.670 0 32-14.330 32-32V304h144c17.670 0 32-14.330 32-32v-32c0-17.670-14.330-32-32-32z"/></svg></div>
<div class="r"><span class="c1">2022-04-19</span><span class="c2">07:05</span><span class="c3">15:30</span><span class="c4">8h 25m</span><span class="c5 rd">-5m</span><span class="c6">2</span><svg viewBox="0 0 448 512" width="12.25" height="14.00" fill="#00c851" color="#00c851" style="left:1196.4px;top:4.400px"><path d="M416 208H272V64c0-17.670-14.330-32-32-32h-32c-17.670 0-32 14.330-32 32v144H32c-17.670 0-32 14.330-32 32v32c0 17.670 14.330 32 32 32h144v144c0 17.670 14.330 32 32 32h32c17.670 0 32-14.330 32-32V304h144c17.670 0 32-14.330 32-32v-32c0-17.670-14.330-32-32-32z"/></svg><svg style="left:1214.9px;top:3px" width="16.900" height="15" viewBox="0 0 576 512" fill="#ff9a0e"><path d="M402.600 83.200l90.200 90.200c3.800 3.800 3.800 10 0 13.800L274.400 405.600l-92.800 10.300c-12.400 1.400-22.900-9.100-21.500-21.500l10.300-92.800L388.800 83.200c3.800-3.800 10-3.800 13.800 0zm162-22.900l-48.800-48.800c-15.200-15.200-39.900-15.200-55.200 0l-35.400 35.400c-3.800 3.800-3.800 10 0 13.800l90.200 90.200c3.800 3.800 10 3.800 13.800 0l35.400-35.400c15.200-15.300 15.200-40 0-55.200zM384 346.200V448H64V128h229.800c3.200 0 6.200-1.300 8.500-3.500l40-40c7.600-7.600 2.200-20.500-8.500-20.500H48C21.500 64 0 85.500 0 112v352c0 26.500 21.500 48 48 48h352c26.500 0 48-21.500 48-48V306.200c0-10.700-12.900-16-20.500-8.500l-40 40c-2.200 2.300-3.500 5.300-3.500 8.500z"/></svg></div>
<div class="r"><span class="c1">2022-04-20</span><span class="c2">07:07</span><span class="c3">15:45</span><span class="c4">8h 38m</span><span class="c5 gr">8m</span><span class="c6">2</span><svg viewBox="0 0 448 512" width="12.25" height="14.00" fill="#00c851" color="#00c851" style="left:1196.4px;top:4.400px"><path d="M416 208H272V64c0-17.670-14.330-32-32-32h-32c-17.670 0-32 14.330-32 32v144H32c-17.670 0-32 14.330-32 32v32c0 17.670 14.330 32 32 32h144v144c0 17.670 14.330 32 32 32h32c17.670 0 32-14.330 32-32V304h144c17.670 0 32-14.330 32-32v-32c0-17.670-14.330-32-32-32z"/></svg><svg style="left:1214.9px;top:3px" width="16.900" height="15" viewBox="0 0 576 512" fill="#ff9a0e"><path d="M402.600 83.200l90.200 90.200c3.800 3.800 3.800 10 0 13.800L274.400 405.600l-92.800 10.300c-12.400 1.400-22.900-9.100-21.500-21.500l10.300-92.800L388.800 83.200c3.800-3.800 10-3.800 13.800 0zm162-22.900l-48.800-48.800c-15.200-15.200-39.900-15.200-55.200 0l-35.400 35.400c-3.800 3.800-3.800 10 0 13.800l90.200 90.200c3.800 3.800 10 3.800 13.800 0l35.400-35.400c15.200-15.300 15.200-40 0-55.200zM384 346.200V448H64V128h229.800c3.200 0 6.200-1.300 8.500-3.500l40-40c7.600-7.600 2.200-20.500-8.500-20.500H48C21.500 64 0 85.500 0 112v352c0 26.500 21.500 48 48 48h352c26.500 0 48-21.500 48-48V306.200c0-10.700-12.900-16-20.500-8.500l-40 40c-2.200 2.300-3.500 5.300-3.500 8.500z"/></svg></div>
<div class="r"><span class="c1">2022-04-21</span><span class="c2">07:17</span><span class="c3">15:00</span><span class="c4">7h 43m</span><span class="c5 rd">-47m</span><span class="c6">2</span><svg viewBox="0 0 448 512" width="12.25" height="14.00" fill="#00c851" color="#00c851" style="left:1196.4px;top:4.400px"><path d="M416 208H272V64c0-17.670-14.330-32-32-32h-32c-17.670 0-32 14.330-32 32v144H32c-17.670 0-32 14.330-32 32v32c0 17.670 14.330 32 32 32h144v144c0 17.670 14.330 32 32 32h32c17.670 0 32-14.330 32-32V304h144c17.670 0 32-14.330 32-32v-32c0-17.670-14.330-32-32-32z"/></svg><svg style="left:1214.9px;top:3px" width="16.900" height="15" viewBox="0 0 576 512" fill="#ff9a0e"><path d="M402.600 83.200l90.200 90.200c3.800 3.800 3.800 10 0 13.800L274.400 405.600l-92.800 10.300c-12.400 1.400-22.900-9.100-21.500-21.500l10.300-92.800L388.800 83.200c3.800-3.800 10-3.800 13.800 0zm162-22.900l-48.800-48.800c-15.200-15.200-39.900-15.200-55.200 0l-35.400 35.400c-3.800 3.800-3.800 10 0 13.800l90.200 90.200c3.800 3.800 10 3.800 13.800 0l35.400-35.400c15.200-15.300 15.200-40 0-55.200zM384 346.200V448H64V128h229.800c3.200 0 6.200-1.300 8.500-3.500l40-40c7.600-7.600 2.200-20.500-8.500-20.500H48C21.500 64 0 85.500 0 112v352c0 26.500 21.500 48 48 48h352c26.500 0 48-21.500 48-48V306.200c0-10.700-12.900-16-20.500-8.500l-40 40c-2.200 2.300-3.500 5.300-3.500 8.500z"/></svg></div>
<div class="r"><span class="c1">2022-04-22</span><span class="c2">07:03</span><span class="c3">15:38</span><span class="c4">8h 35m</span><span class="c5 gr">5m</span><span class="c6">2</span><svg viewBox="0 0 448 512" width="12.25" height="14.00" fill="#00c851" color="#00c851" style="left:1196.4px;top:4.400px"><path d="M416 208H272V64c0-17.670-14.330-32-32-32h-32c-17.670 0-32 14.330-32 32v144H32c-17.670 0-32 14.330-32 32v32c0 17.670 14.330 32 32 32h144v144c0 17.670 14.330 32 32 32h32c17.670 0 32-14.330 32-32V304h144c17.670 0 32-14.330 32-32v-32c0-17.670-14.330-32-32-32z"/></svg><svg style="left:1214.9px;top:3px" width="16.900" height="15" viewBox="0 0 576 512" fill="#ff9a0e"><path d="M402.600 83.200l90.200 90.200c3.800 3.800 3.800 10 0 13.800L274.400 405.600l-92.800 10.300c-12.400 1.400-22.900-9.100-21.500-21.500l10.300-92.800L388.800 83.200c3.800-3.800 10-3.800 13.800 0zm162-22.900l-48.800-48.800c-15.200-15.200-39.900-15.200-55.200 0l-35.400 35.400c-3.800 3.800-3.800 10 0 13.800l90.200 90.200c3.800 3.800 10 3.800 13.800 0l35.400-35.400c15.200-15.300 15.200-40 0-55.200zM384 346.200V448H64V128h229.800c3.200 0 6.200-1.300 8.500-3.500l40-40c7.600-7.600 2.200-20.500-8.500-20.500H48C21.500 64 0 85.500 0 112v352c0 26.500 21.500 48 48 48h352c26.500 0 48-21.500 48-48V306.200c0-10.700-12.900-16-20.500-8.500l-40 40c-2.200 2.300-3.500 5.300-3.500 8.500z"/></svg></div>
<div class="r g"><span class="c1">2022-04-23</span><span class="c2">-</span><span class="c3">-</span><span class="c4">-</span><span class="c5">-</span><svg viewBox="0 0 448 512" width="12.25" height="14.00" fill="#00c851" color="#00c851" style="left:1207.8px;top:4.400px"><path d="M416 208H272V64c0-17.670-14.330-32-32-32h-32c-17.670 0-32 14.330-32 32v144H32c-17.670 0-32 14.330-32 32v32c0 17.670 14.330 32 32 32h144v144c0 17.670 14.330 32 32 32h32c17.670 0 32-14.330 32-32V304h144c17.670 0 32-14.330 32-32v-32c0-17.670-14.330-32-32-32z"/></svg></div>
<div class="r g"><span class="c1">2022-04-24</span><span class="c2">-</span><span class="c3">-</span><span class="c4">-</span><span class="c5">-</span><svg viewBox="0 0 448 512" width="12.25" height="14.00" fill="#00c851" color="#00c851" style="left:1207.8px;top:4.400px"><path d="M416 208H272V64c0-17.670-14.330-32-32-32h-32c-17.670 0-32 14.330-32 32v144H32c-17.670 0-32 14.330-32 32v32c0 17.670 14.330 32 32 32h144v144c0 17.670 14.330 32 32 32h32c17.670 0 32-14.330 32-32V304h144c17.670 0 32-14.330 32-32v-32c0-17.670-14.330-32-32-32z"/></svg></div>
<div class="r"><span class="c1">2022-04-25</span><span class="c2">-</span><span class="c3">-</span><span class="c4">-</span><span class="c5">-</span><svg viewBox="0 0 448 512" width="12.25" height="14.00" fill="#00c851" color="#00c851" style="left:1207.8px;top:4.400px"><path d="M416 208H272V64c0-17.670-14.330-32-32-32h-32c-17.670 0-32 14.330-32 32v144H32c-17.670 0-32 14.330-32 32v32c0 17.670 14.330 32 32 32h144v144c0 17.670 14.330 32 32 32h32c17.670 0 32-14.330 32-32V304h144c17.670 0 32-14.330 32-32v-32c0-17.670-14.330-32-32-32z"/></svg></div>
</div>
</div></div></body></html>
